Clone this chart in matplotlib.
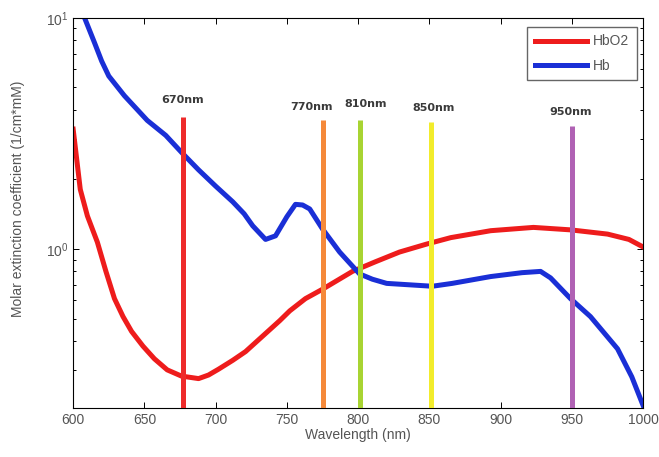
import numpy as np
from matplotlib import pyplot as plt
from matplotlib.ticker import LogLocator, NullFormatter

plt.rcParams['font.family'] = ['Liberation Sans', 'DejaVu Sans']

# wavelength (nm) and molar extinction values
wl_hbo2 = [600, 605, 610, 617, 623, 629, 635, 641, 649, 657, 666, 676, 688, 695, 702, 712,
           721, 733, 745, 752, 763, 775, 796, 812, 829, 848, 865, 893, 923, 949, 975, 990,
           1000]
hbo2 = [3.3, 1.81, 1.39, 1.07, 0.8, 0.61, 0.51, 0.44, 0.38, 0.335, 0.3, 0.282, 0.275,
        0.285, 0.302, 0.33, 0.36, 0.42, 0.49, 0.54, 0.61, 0.67, 0.8, 0.88, 0.97, 1.05, 1.12,
        1.2, 1.24, 1.21, 1.16, 1.1, 1.02]

wl_hb = [600, 608, 615, 620, 625, 636, 652, 665, 676, 688, 700, 712, 720, 726, 735, 742,
         750, 756, 761, 766, 775, 787, 801, 810, 820, 852, 866, 893, 915, 928, 935, 949,
         963, 982, 992, 1000]
hb = [14, 10, 7.8, 6.5, 5.6, 4.6, 3.6, 3.1, 2.62, 2.2, 1.87, 1.6, 1.42, 1.26, 1.1, 1.14,
      1.38, 1.56, 1.55, 1.49, 1.22, 0.97, 0.78, 0.74, 0.71, 0.69, 0.71, 0.76, 0.79, 0.8,
      0.75, 0.61, 0.51, 0.37, 0.28, 0.21]

# marker wavelengths: label, line position, top of line, label position, colour
mark_labels = ["670nm", "770nm", "810nm", "850nm", "950nm"]
mark_pos = [677, 775, 801, 851, 950]
mark_top = [3.74, 3.63, 3.63, 3.56, 3.39]
label_x = [677, 767, 805, 853, 949]
label_y = [4.43, 4.13, 4.22, 4.09, 3.93]
mark_colors = ["#ee2b2b", "#f5893a", "#a8d432", "#f2ec2c", "#b062b4"]

fig = plt.figure(figsize=(6.59, 4.57), dpi=100)
ax = fig.add_axes([0.111, 0.107, 0.865, 0.854])

ax.plot(wl_hbo2, hbo2, color="#ee1c1c", lw=3.6, label="HbO2", zorder=2)
ax.plot(wl_hb, hb, color="#1a2fd6", lw=3.6, label="Hb", zorder=2)

for x, top, c in zip(mark_pos, mark_top, mark_colors):
    ax.vlines(x, 0.2, top, colors=c, lw=3.6, zorder=3)
for lab, x, y in zip(mark_labels, label_x, label_y):
    ax.text(x, y, lab, ha="center", va="center", fontsize=8, fontweight="bold",
            color="#3a3a3a", family="DejaVu Sans")

ax.set_yscale("log")
ax.set_xlim(600, 1000)
ax.set_ylim(0.205, 10)
ax.set_xticks(np.arange(600, 1001, 50))
ax.yaxis.set_major_locator(LogLocator(base=10))
ax.yaxis.set_minor_locator(LogLocator(base=10, subs=np.arange(2, 10)))
ax.yaxis.set_minor_formatter(NullFormatter())
ax.tick_params(which="both", direction="in", top=True, right=True, labelsize=10,
               labelcolor="#555555", width=0.7)
ax.tick_params(which="major", length=4)
ax.tick_params(which="minor", length=2)
for s in ax.spines.values():
    s.set_linewidth(0.8)

ax.set_xlabel("Wavelength (nm)", fontsize=10, color="#555555", labelpad=1)
ax.set_ylabel("Molar extinction coefficient (1/cm*mM)", fontsize=10, color="#555555")
ax.yaxis.set_label_coords(-0.085, 0.536)

leg = ax.legend(loc="upper right", bbox_to_anchor=(0.989, 0.977), borderaxespad=0,
                fontsize=10, fancybox=False, edgecolor="#666666", handlelength=3.8,
                handletextpad=0.4, labelspacing=0.75, borderpad=0.55, framealpha=1)
for t in leg.get_texts():
    t.set_color("#555555")

plt.savefig("out.png")
